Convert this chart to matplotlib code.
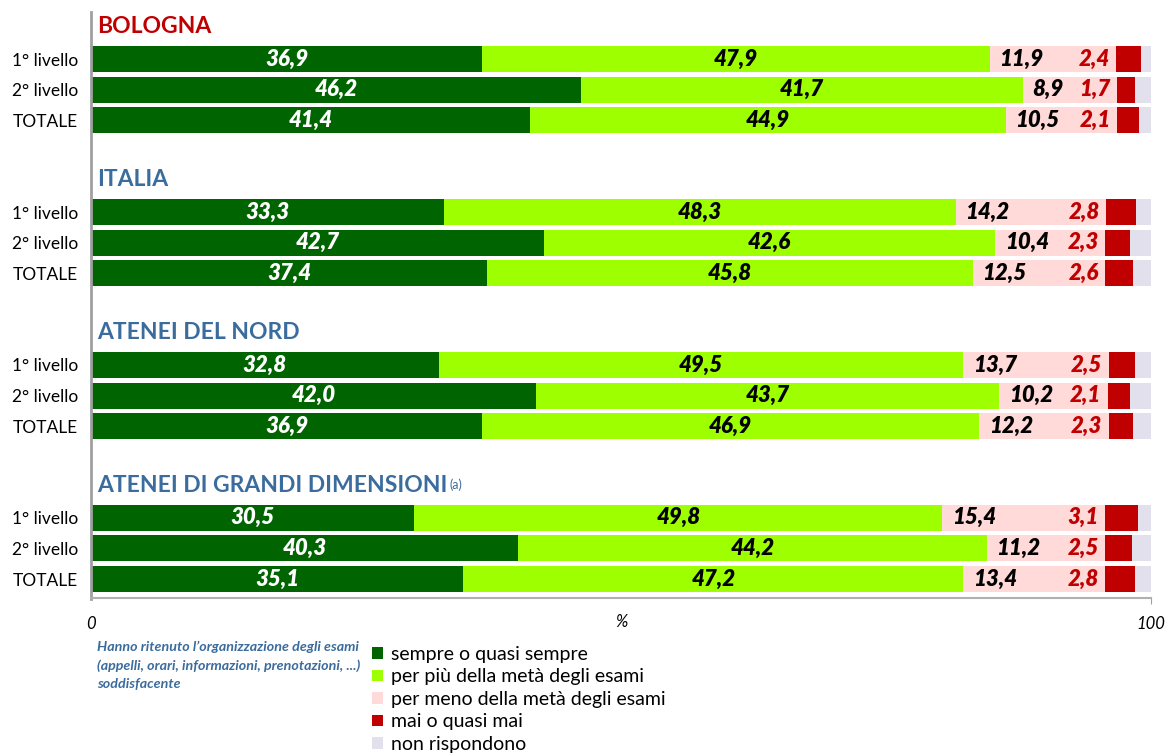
import matplotlib
matplotlib.use("Agg")
import matplotlib.pyplot as plt
from matplotlib.patches import Patch

plt.rcParams['font.family'] = ['Lato', 'DejaVu Sans']

groups = ["BOLOGNA", "ITALIA", "ATENEI DEL NORD", "ATENEI DI GRANDI DIMENSIONI"]
rows = ["1° livello", "2° livello", "TOTALE"]
series = ["sempre o quasi sempre", "per più della metà degli esami",
          "per meno della metà degli esami", "mai o quasi mai", "non rispondono"]

sempre = [36.9, 46.2, 41.4, 33.3, 42.7, 37.4, 32.8, 42.0, 36.9, 30.5, 40.3, 35.1]
piu_meta = [47.9, 41.7, 44.9, 48.3, 42.6, 45.8, 49.5, 43.7, 46.9, 49.8, 44.2, 47.2]
meno_meta = [11.9, 8.9, 10.5, 14.2, 10.4, 12.5, 13.7, 10.2, 12.2, 15.4, 11.2, 13.4]
mai = [2.4, 1.7, 2.1, 2.8, 2.3, 2.6, 2.5, 2.1, 2.3, 3.1, 2.5, 2.8]
non_risp = [0.9, 1.5, 1.1, 1.4, 2.0, 1.7, 1.5, 2.0, 1.7, 1.2, 1.8, 1.5]

colors = ["#006400", "#9EFF00", "#FFDAD8", "#C00000", "#E1E0EC"]
header_colors = ["#C00000", "#3B6C9E", "#3B6C9E", "#3B6C9E"]

fig = plt.figure(figsize=(11.65, 7.53), dpi=100)
ax = fig.add_axes([91/1165, 1-598/753, 1060/1165, 586/753])

def fmt(v):
    return f"{v:.1f}".replace(".", ",")

ypos = []
for g in range(len(groups)):
    for i in range(len(rows)):
        ypos.append(g*5 + 1 + i)

data = [sempre, piu_meta, meno_meta, mai, non_risp]
h = 0.85
for k, vals in enumerate(data):
    left = [sum(data[j][n] for j in range(k)) for n in range(len(vals))]
    ax.barh(ypos, vals, left=left, height=h, color=colors[k], edgecolor='none')

lab_kw = dict(fontsize=16, fontweight='heavy', fontstyle='italic', va='center')
for n, y in enumerate(ypos):
    s0 = sempre[n]
    s1 = s0 + piu_meta[n]
    s2 = s1 + meno_meta[n]
    ax.text(s0/2, y, fmt(sempre[n]), ha='center', color='white', **lab_kw)
    ax.text(s0 + piu_meta[n]/2, y, fmt(piu_meta[n]), ha='center', color='black', **lab_kw)
    ax.text(s1 + 0.9, y, fmt(meno_meta[n]), ha='left', color='black', **lab_kw)
    ax.text(s2 - 0.6, y, fmt(mai[n]), ha='right', color='#C00000', **lab_kw)

for g, name in enumerate(groups):
    t = ax.text(0.55, g*5 - 0.05, name, ha='left', va='center', fontsize=16.5,
                fontweight='bold', color=header_colors[g])
    if g == 3:
        ax.annotate("(a)", xy=(1, 0.85), xycoords=t, xytext=(2, 0),
                    textcoords='offset points', ha='left', va='top',
                    fontsize=9, color=header_colors[g])

ax.set_xlim(0, 100)
ax.set_ylim(18.62, -0.54)
ax.set_yticks(ypos)
ax.set_yticklabels(rows * len(groups), fontsize=12.5)
ax.tick_params(axis='y', length=0, pad=9.5)
ax.set_xticks([0, 100])
ax.set_xticklabels(["0", "100"], fontstyle='italic', fontsize=12)
ax.tick_params(axis='x', length=4, color='#A0A0A0', pad=9, direction='out')
ax.xaxis.get_major_ticks()[0].tick1line.set_visible(False)
for sp in ["top", "right"]:
    ax.spines[sp].set_visible(False)
ax.spines["left"].set_color("#A0A0A0")
ax.spines["left"].set_linewidth(2)
ax.spines["left"].set_bounds(18.65, -0.54)
ax.spines["bottom"].set_color("#B0B0B0")
ax.spines["bottom"].set_linewidth(1.5)
ax.text(50, 19.4, "%", ha='center', va='center', fontstyle='italic', fontsize=12)

fig.text(97/1165, 1-641/753,
         "Hanno ritenuto l’organizzazione degli esami\n(appelli, orari, informazioni, prenotazioni, ...)\nsoddisfacente",
         ha='left', va='top', fontsize=10.3, fontweight='bold', fontstyle='italic',
         color='#3B6C9E', linespacing=1.6)

handles = [Patch(facecolor=c, edgecolor='none') for c in colors]
fig.legend(handles, series, loc='upper left', bbox_to_anchor=(372/1165, 1-646/753),
           frameon=False, fontsize=14, handlelength=0.55, handleheight=0.55,
           handletextpad=0.45, labelspacing=0.28, borderaxespad=0, borderpad=0)

fig.savefig("out.png", dpi=100)
